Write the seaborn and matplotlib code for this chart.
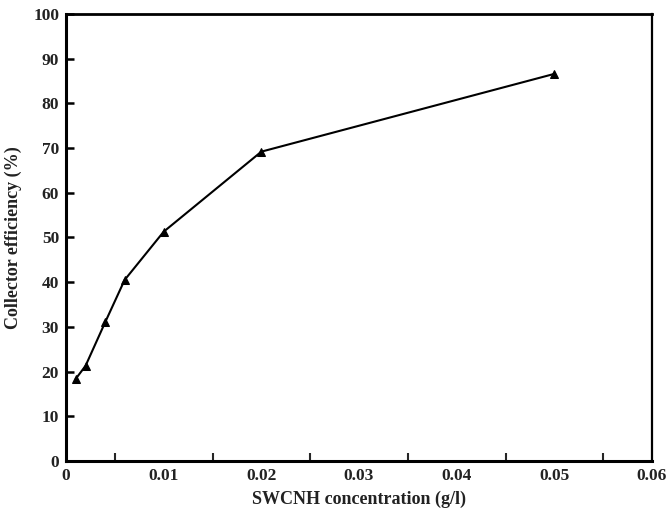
import matplotlib
matplotlib.use("Agg")
import matplotlib.pyplot as plt
import seaborn as sns
import pandas as pd
from matplotlib.ticker import MultipleLocator, FuncFormatter

concentration = [0.001, 0.002, 0.004, 0.006, 0.01, 0.02, 0.05]
efficiency = [18.4, 21.3, 31.0, 40.5, 51.3, 69.2, 86.6]

sns.set_theme(style="white")
plt.rcParams['font.family'] = ['Liberation Serif', 'DejaVu Serif']
plt.rcParams['font.weight'] = 'bold'

df = pd.DataFrame({"conc": concentration, "eff": efficiency})

fig = plt.figure(figsize=(6.67, 5.08), dpi=100)
ax = fig.add_axes([0.099, 0.0925, 0.8785, 0.88])
sns.lineplot(data=df, x="conc", y="eff", ax=ax, color="black", linewidth=1.5,
             marker="^", markersize=6, markeredgecolor="black", markerfacecolor="black")

ax.set_xlim(0, 0.06)
ax.set_ylim(0, 100)
ax.xaxis.set_major_locator(MultipleLocator(0.01))
ax.xaxis.set_minor_locator(MultipleLocator(0.005))
ax.yaxis.set_major_locator(MultipleLocator(10))

def xfmt(v, p):
    if abs(v) < 1e-12:
        return "0"
    return ("%.2f" % v)
ax.xaxis.set_major_formatter(FuncFormatter(xfmt))

ax.tick_params(axis='both', which='major', direction='in', length=6, width=1.8,
               labelsize=12.5, colors='black', pad=5)
ax.tick_params(axis='x', which='minor', direction='in', length=6, width=1.5, bottom=True)
ax.tick_params(axis='y', which='both', left=True, right=False)
ax.tick_params(axis='x', which='both', top=False)

for lab in ax.get_xticklabels() + ax.get_yticklabels():
    lab.set_fontweight('bold')
    lab.set_color('#222222')

for name, sp in ax.spines.items():
    sp.set_color('black')
    sp.set_visible(True)
ax.spines['left'].set_linewidth(2.2)
ax.spines['bottom'].set_linewidth(2.2)
ax.spines['top'].set_linewidth(2.0)
ax.spines['right'].set_linewidth(1.6)

ax.set_xlabel("SWCNH concentration (g/l)", fontsize=13, fontweight='bold', color='#222222', labelpad=5)
ax.set_ylabel("Collector efficiency (%)", fontsize=13, fontweight='bold', color='#222222', labelpad=8)

fig.savefig("out.png", dpi=100)
